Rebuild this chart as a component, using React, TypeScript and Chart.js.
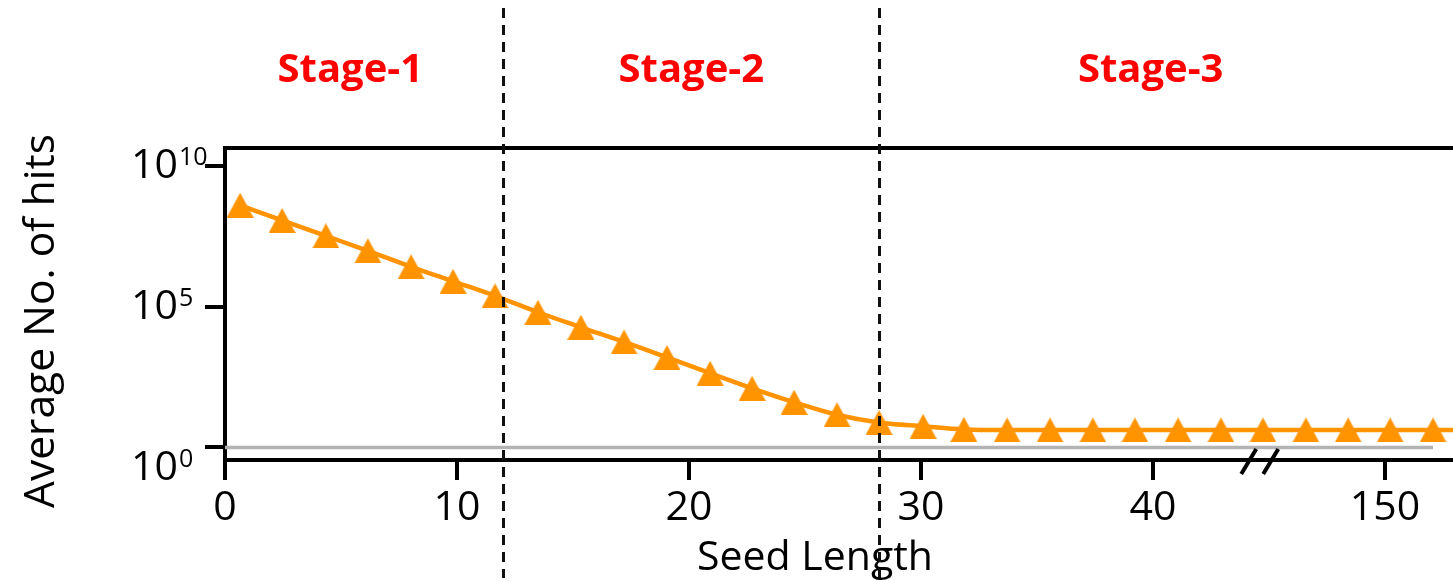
import { useEffect, useRef } from 'react';
import { Chart, registerables } from 'chart.js';

Chart.register(...registerables);

// Positions along the seed-length axis (the stretch after the axis break is compressed)
const seedPositions = [
  0.65, 2.46, 4.35, 6.16, 8.02, 9.83, 11.64, 13.49, 15.34, 17.2,
  19.05, 20.91, 22.72, 24.53, 26.38, 28.19, 30.09, 31.85, 33.71, 35.56,
  37.41, 39.22, 41.08, 42.93, 44.74, 46.59, 48.41, 50.22, 52.07, 53.92,
];
// Average number of hits for each seed length
const avgHits = [
  4.2e8, 1.2e8, 3.4e7, 1.0e7, 2.7e6, 8.2e5, 2.5e5, 6.5e4, 1.9e4, 5.7e3,
  1.6e3, 440, 128, 41, 14.7, 7.8, 5.7, 4.4, 4.2, 4.2,
  4.2, 4.2, 4.2, 4.2, 4.2, 4.2, 4.2, 4.2, 4.2, 4.2,
];
// Reference level of one hit
const baselineX = [0, 52.07];
const baselineHits = [1, 1];

const xTickValues = [0, 10, 20, 30, 40, 50];
const xTickLabels = ['0', '10', '20', '30', '40', '150'];
const yTickValues = [1, 1e5, 1e10];
const yTickExponents = ['0', '5', '10'];

const stageNames = ['Stage-1', 'Stage-2', 'Stage-3'];
const stageCenters = [5.4, 20.1, 39.9];
const stageBoundaries = [12.0, 28.2];
const axisBreakAt = 44.6;

const ORANGE = '#FF9300';
const FONT = '"Open Sans", "Noto Sans", sans-serif';

function makeTriangle(color: string): HTMLCanvasElement {
  const c = document.createElement('canvas');
  c.width = 27;
  c.height = 25;
  const g = c.getContext('2d')!;
  g.fillStyle = color;
  g.beginPath();
  g.moveTo(13.5, 0);
  g.lineTo(27, 25);
  g.lineTo(0, 25);
  g.closePath();
  g.fill();
  return c;
}

const decorations = {
  id: 'decorations',
  afterDraw(chart: any) {
    const { ctx, chartArea, scales } = chart;
    const xs = scales.x;
    const ys = scales.y;
    ctx.save();

    // top frame line
    ctx.strokeStyle = '#000';
    ctx.lineWidth = 4;
    ctx.beginPath();
    ctx.moveTo(chartArea.left - 2, chartArea.top);
    ctx.lineTo(chartArea.right, chartArea.top);
    ctx.stroke();

    // axis break marks
    const bx = xs.getPixelForValue(axisBreakAt);
    const by = chartArea.bottom + 1.5;
    ctx.lineWidth = 4;
    [-11, 11].forEach((dx) => {
      ctx.beginPath();
      ctx.moveTo(bx + dx - 7.5, by + 12.5);
      ctx.lineTo(bx + dx + 7.5, by - 12.5);
      ctx.stroke();
    });

    // y tick labels with exponents
    ctx.fillStyle = '#000';
    ctx.textAlign = 'left';
    ctx.textBaseline = 'alphabetic';
    yTickValues.forEach((v, i) => {
      const py = ys.getPixelForValue(v);
      const base = i === 0 ? py + 33 : py + 12;
      const x0 = chartArea.left - 94;
      ctx.font = `41px ${FONT}`;
      ctx.fillText('10', x0, base);
      const w = ctx.measureText('10').width;
      ctx.font = `25px ${FONT}`;
      ctx.fillText(yTickExponents[i], x0 + w + 1, base - 13);
    });

    // axis titles
    ctx.font = `41px ${FONT}`;
    ctx.textAlign = 'center';
    ctx.fillText('Seed Length', 815, 570);
    ctx.save();
    ctx.translate(54, 321);
    ctx.rotate(-Math.PI / 2);
    ctx.font = `42.5px ${FONT}`;
    ctx.fillText('Average No. of hits', 0, 0);
    ctx.restore();

    // stage labels
    ctx.fillStyle = '#FF0000';
    ctx.font = `bold 40px ${FONT}`;
    stageNames.forEach((name, i) => {
      ctx.fillText(name, xs.getPixelForValue(stageCenters[i]), 82);
    });

    // stage boundaries
    ctx.strokeStyle = '#111';
    ctx.lineWidth = 3;
    ctx.setLineDash([10, 7]);
    stageBoundaries.forEach((b) => {
      const px = Math.round(xs.getPixelForValue(b)) + 0.5;
      ctx.beginPath();
      ctx.moveTo(px, 8);
      ctx.lineTo(px, 578);
      ctx.stroke();
    });
    ctx.restore();
  },
};

export default function App() {
  const ref = useRef<HTMLCanvasElement>(null);

  useEffect(() => {
    const canvas = ref.current!;
    const tri = makeTriangle(ORANGE);
    const axisGrid = {
      drawOnChartArea: false,
      drawTicks: true,
      tickLength: 20,
      lineWidth: 4,
      color: '#000',
    };
    const axisBorder = { display: true, width: 4, color: '#000' };

    const chart = new Chart(canvas, {
      type: 'line',
      data: {
        datasets: [
          {
            data: seedPositions.map((x, i) => ({ x, y: avgHits[i] })),
            borderColor: ORANGE,
            backgroundColor: ORANGE,
            borderWidth: 4.5,
            pointStyle: tri as any,
            pointRadius: 13,
            cubicInterpolationMode: 'monotone',
          },
          {
            data: baselineX.map((x, i) => ({ x, y: baselineHits[i] })),
            borderColor: '#B3B3B3',
            borderWidth: 3.5,
            pointRadius: 0,
          },
        ],
      },
      options: {
        animation: false,
        responsive: false,
        devicePixelRatio: 1,
        layout: { autoPadding: false, padding: { top: 148, left: 0, right: 0, bottom: 0 } },
        plugins: { legend: { display: false }, tooltip: { enabled: false } },
        scales: {
          x: {
            type: 'linear',
            min: 0,
            max: 52.93,
            afterBuildTicks: (s: any) => {
              s.ticks = xTickValues.map((value) => ({ value }));
            },
            afterFit: (s: any) => {
              s.height = 121;
              s.paddingLeft = 0;
              s.paddingRight = 0;
            },
            ticks: {
              autoSkip: false,
              maxRotation: 0,
              padding: 4,
              color: '#000',
              font: { family: FONT, size: 41 },
              callback: (_v: any, i: number) => xTickLabels[i],
            },
            grid: axisGrid,
            border: axisBorder,
          },
          y: {
            type: 'logarithmic',
            min: 0.359,
            max: 4.55e10,
            afterBuildTicks: (s: any) => {
              s.ticks = yTickValues.map((value) => ({ value }));
            },
            afterFit: (s: any) => {
              s.width = 225;
              s.paddingTop = 0;
              s.paddingBottom = 0;
            },
            ticks: { display: false },
            grid: axisGrid,
            border: axisBorder,
          },
        },
      },
      plugins: [decorations],
    } as any);

    return () => chart.destroy();
  }, []);

  return (
    <div
      style={{
        position: 'fixed',
        left: 0,
        top: 0,
        width: 1453,
        height: 581,
        background: '#fff',
        overflow: 'hidden',
      }}
    >
      <canvas ref={ref} width={1453} height={581} style={{ display: 'block' }} />
    </div>
  );
}
